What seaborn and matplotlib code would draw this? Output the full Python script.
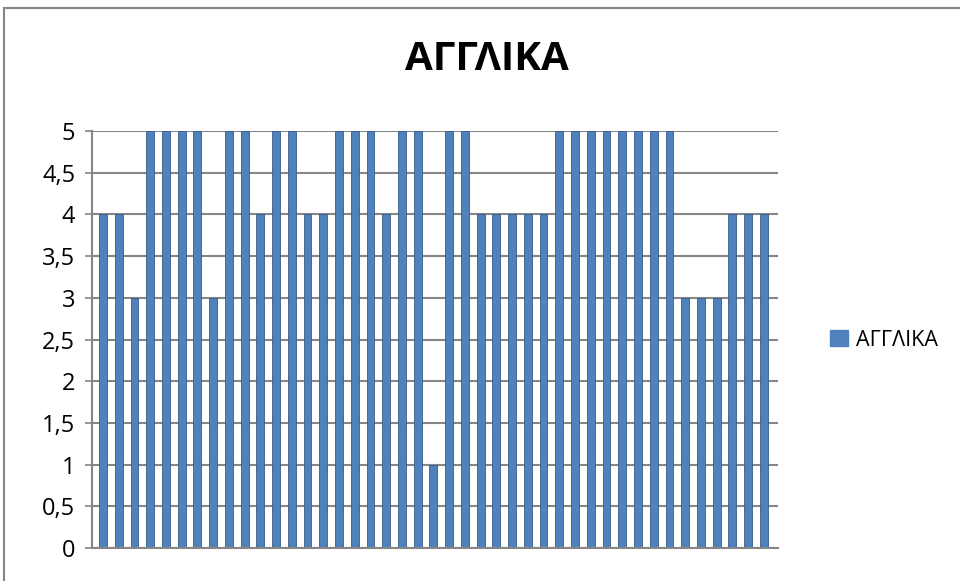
import matplotlib
matplotlib.use("Agg")
import matplotlib.pyplot as plt
import matplotlib.patches as mpatches
from matplotlib.ticker import FuncFormatter, MultipleLocator
import seaborn as sns
import pandas as pd

categories = list(range(1, 44))
values = [4, 4, 3, 5, 5, 5, 5, 3, 5, 5, 4, 5, 5, 4, 4,
          5, 5, 5, 4, 5, 5, 1, 5, 5, 4, 4, 4, 4, 4, 5, 5,
          5, 5, 5, 5, 5, 5, 3, 3, 3, 4, 4, 4]
series_name = "ΑΓΓΛΙΚΑ"
title = "ΑΓΓΛΙΚΑ"

df = pd.DataFrame({"cat": [str(c) for c in categories], "val": values})

sns.set_theme(style="white")
plt.rcParams["font.family"] = ["Open Sans", "DejaVu Sans"]
plt.rcParams["text.color"] = "black"

W, H = 960, 581
fig = plt.figure(figsize=(W / 100, H / 100), dpi=100)
fig.patch.set_facecolor("white")

# outer chart border
fig.add_artist(mpatches.Rectangle((4 / W, -0.05), 1.1, 1 - 8 / H + 0.05,
                                  transform=fig.transFigure, fill=False,
                                  edgecolor="#868686", linewidth=1.5))

ax = fig.add_axes([92 / W, 1 - 548 / H, (778 - 92) / W, (548 - 131) / H])
bar_color = "#4F81BD"
sns.barplot(data=df, x="cat", y="val", color=bar_color, width=0.5,
            edgecolor="#385D8A", linewidth=0.6, saturation=1,
            label=series_name, ax=ax, legend=False)

ax.set_xlim(-0.7, 42.9)
ax.set_ylim(0, 5)
ax.yaxis.set_major_locator(MultipleLocator(0.5))
ax.yaxis.set_major_formatter(FuncFormatter(lambda v, p: f"{v:g}".replace(".", ",")))
ax.grid(axis="y", color="#868686", linewidth=1.5)
ax.set_axisbelow(True)
ax.set_xticks([])
ax.set_xlabel("")
ax.set_ylabel("")
for s in ["top", "right"]:
    ax.spines[s].set_visible(False)
for s in ["left", "bottom"]:
    ax.spines[s].set_color("#868686")
    ax.spines[s].set_linewidth(1.5)
ax.tick_params(axis="y", which="major", left=True, length=5, width=1.2,
               color="#868686", labelsize=17, pad=7, labelcolor="black")

fig.text(487 / W, 1 - 60 / H, title, ha="center", va="center",
         fontsize=29, fontweight="bold", color="black",
         family=["Liberation Sans Narrow", "Open Sans", "DejaVu Sans"])

handle = mpatches.Patch(color=bar_color, label=series_name)
fig.legend(handles=[handle], loc="center left",
           bbox_to_anchor=(811 / W, 1 - 340 / H), frameon=False,
           handlelength=0.8, handleheight=0.8, handletextpad=0.4,
           prop={"size": 15.5}, labelcolor="black")

fig.savefig("out.png", dpi=100, facecolor="white")
